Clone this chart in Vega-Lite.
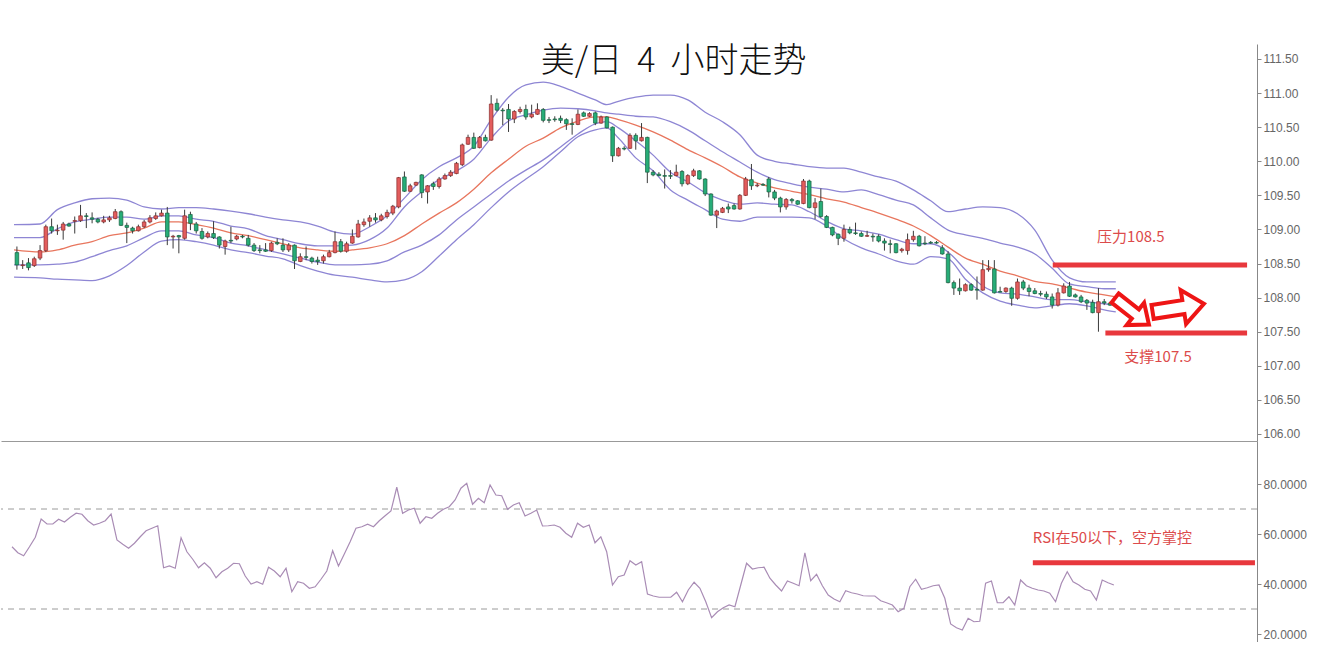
{
  "$schema": "https://vega.github.io/schema/vega-lite/v6.json",
  "padding": {"left": 0, "top": 44, "right": 0, "bottom": 0},
  "background": "#ffffff",
  "spacing": 0,
  "config": {
    "view": {"stroke": null},
    "axis": {"grid": false, "domainColor": "#888888", "tickColor": "#888888", "tickSize": 4, "labelColor": "#666666", "labelFont": "Liberation Sans", "labelFontSize": 12, "labelPadding": 2, "labelOverlap": false, "title": null}
  },
  "datasets": {
    "k": [
      {"n":1,"o":108.66,"h":108.75,"l":108.41,"c":108.48,"r":54.9},
      {"n":2,"o":108.47,"h":108.55,"l":108.42,"c":108.48,"r":52.5},
      {"n":3,"o":108.51,"h":108.58,"l":108.40,"c":108.44,"r":51.3},
      {"n":4,"o":108.47,"h":108.60,"l":108.45,"c":108.57,"r":54.9},
      {"n":5,"o":108.58,"h":108.77,"l":108.55,"c":108.69,"r":58.7},
      {"n":6,"o":108.69,"h":109.07,"l":108.67,"c":109.04,"r":66.0},
      {"n":7,"o":109.04,"h":109.16,"l":108.94,"c":108.98,"r":64.0},
      {"n":8,"o":108.98,"h":109.07,"l":108.92,"c":108.99,"r":64.0},
      {"n":9,"o":108.99,"h":109.11,"l":108.85,"c":109.08,"r":65.9},
      {"n":10,"o":109.08,"h":109.10,"l":109.04,"c":109.05,"r":64.8},
      {"n":11,"o":109.12,"h":109.19,"l":108.94,"c":109.13,"r":66.7},
      {"n":12,"o":109.13,"h":109.36,"l":109.11,"c":109.20,"r":68.3},
      {"n":13,"o":109.20,"h":109.24,"l":109.02,"c":109.19,"r":67.9},
      {"n":14,"o":109.17,"h":109.25,"l":109.09,"c":109.15,"r":65.3},
      {"n":15,"o":109.15,"h":109.17,"l":109.09,"c":109.11,"r":63.6},
      {"n":16,"o":109.11,"h":109.20,"l":109.09,"c":109.14,"r":64.3},
      {"n":17,"o":109.14,"h":109.20,"l":109.11,"c":109.17,"r":65.3},
      {"n":18,"o":109.16,"h":109.30,"l":109.15,"c":109.26,"r":68.0},
      {"n":19,"o":109.26,"h":109.28,"l":109.05,"c":109.06,"r":57.6},
      {"n":20,"o":109.06,"h":109.10,"l":108.80,"c":109.03,"r":55.9},
      {"n":21,"o":109.02,"h":109.04,"l":108.94,"c":108.98,"r":54.3},
      {"n":22,"o":108.98,"h":109.07,"l":108.97,"c":109.04,"r":56.3},
      {"n":23,"o":109.04,"h":109.14,"l":109.02,"c":109.11,"r":58.9},
      {"n":24,"o":109.11,"h":109.21,"l":109.09,"c":109.17,"r":61.3},
      {"n":25,"o":109.16,"h":109.25,"l":109.14,"c":109.20,"r":62.3},
      {"n":26,"o":109.20,"h":109.29,"l":109.19,"c":109.24,"r":63.3},
      {"n":27,"o":109.24,"h":109.33,"l":108.77,"c":108.89,"r":46.5},
      {"n":28,"o":108.89,"h":108.92,"l":108.72,"c":108.90,"r":47.2},
      {"n":29,"o":108.91,"h":108.92,"l":108.65,"c":108.89,"r":46.3},
      {"n":30,"o":108.87,"h":109.29,"l":108.85,"c":109.20,"r":58.5},
      {"n":31,"o":109.22,"h":109.26,"l":108.99,"c":109.09,"r":52.9},
      {"n":32,"o":109.08,"h":109.11,"l":108.94,"c":108.98,"r":49.9},
      {"n":33,"o":108.97,"h":109.02,"l":108.85,"c":108.87,"r":46.5},
      {"n":34,"o":108.89,"h":108.97,"l":108.87,"c":108.94,"r":48.5},
      {"n":35,"o":108.94,"h":109.12,"l":108.86,"c":108.88,"r":46.3},
      {"n":36,"o":108.89,"h":108.90,"l":108.72,"c":108.77,"r":42.5},
      {"n":37,"o":108.75,"h":108.85,"l":108.63,"c":108.83,"r":44.9},
      {"n":38,"o":108.84,"h":109.04,"l":108.80,"c":108.83,"r":46.3},
      {"n":39,"o":108.86,"h":108.92,"l":108.84,"c":108.90,"r":48.3},
      {"n":40,"o":108.90,"h":108.92,"l":108.87,"c":108.89,"r":48.1},
      {"n":41,"o":108.87,"h":108.92,"l":108.75,"c":108.77,"r":43.2},
      {"n":42,"o":108.77,"h":108.80,"l":108.67,"c":108.69,"r":40.0},
      {"n":43,"o":108.70,"h":108.77,"l":108.65,"c":108.69,"r":40.9},
      {"n":44,"o":108.70,"h":108.80,"l":108.67,"c":108.68,"r":39.9},
      {"n":45,"o":108.69,"h":108.82,"l":108.67,"c":108.80,"r":46.7},
      {"n":46,"o":108.81,"h":108.87,"l":108.77,"c":108.79,"r":45.2},
      {"n":47,"o":108.77,"h":108.87,"l":108.67,"c":108.70,"r":42.9},
      {"n":48,"o":108.70,"h":108.80,"l":108.67,"c":108.77,"r":46.3},
      {"n":49,"o":108.77,"h":108.78,"l":108.42,"c":108.54,"r":36.9},
      {"n":50,"o":108.53,"h":108.65,"l":108.52,"c":108.60,"r":40.9},
      {"n":51,"o":108.60,"h":108.75,"l":108.55,"c":108.59,"r":40.3},
      {"n":52,"o":108.58,"h":108.60,"l":108.50,"c":108.53,"r":38.3},
      {"n":53,"o":108.55,"h":108.60,"l":108.48,"c":108.53,"r":38.9},
      {"n":54,"o":108.54,"h":108.63,"l":108.50,"c":108.60,"r":41.9},
      {"n":55,"o":108.60,"h":108.70,"l":108.59,"c":108.66,"r":45.2},
      {"n":56,"o":108.66,"h":108.97,"l":108.65,"c":108.82,"r":53.3},
      {"n":57,"o":108.82,"h":108.86,"l":108.66,"c":108.68,"r":47.2},
      {"n":58,"o":108.68,"h":108.82,"l":108.66,"c":108.79,"r":52.0},
      {"n":59,"o":108.80,"h":109.00,"l":108.79,"c":108.90,"r":56.9},
      {"n":60,"o":108.89,"h":109.14,"l":108.88,"c":109.08,"r":62.3},
      {"n":61,"o":109.07,"h":109.16,"l":109.04,"c":109.11,"r":62.9},
      {"n":62,"o":109.12,"h":109.21,"l":109.04,"c":109.17,"r":63.9},
      {"n":63,"o":109.17,"h":109.24,"l":109.10,"c":109.14,"r":62.9},
      {"n":64,"o":109.14,"h":109.23,"l":109.12,"c":109.20,"r":65.3},
      {"n":65,"o":109.19,"h":109.29,"l":109.16,"c":109.25,"r":67.3},
      {"n":66,"o":109.24,"h":109.36,"l":109.21,"c":109.34,"r":69.2},
      {"n":67,"o":109.33,"h":109.77,"l":109.31,"c":109.76,"r":78.7},
      {"n":68,"o":109.77,"h":109.85,"l":109.55,"c":109.56,"r":68.3},
      {"n":69,"o":109.56,"h":109.67,"l":109.55,"c":109.64,"r":69.6},
      {"n":70,"o":109.65,"h":109.70,"l":109.64,"c":109.69,"r":70.3},
      {"n":71,"o":109.80,"h":109.81,"l":109.46,"c":109.54,"r":64.3},
      {"n":72,"o":109.55,"h":109.65,"l":109.38,"c":109.64,"r":66.9},
      {"n":73,"o":109.67,"h":109.70,"l":109.58,"c":109.63,"r":66.3},
      {"n":74,"o":109.63,"h":109.77,"l":109.60,"c":109.74,"r":68.3},
      {"n":75,"o":109.74,"h":109.82,"l":109.73,"c":109.79,"r":69.9},
      {"n":76,"o":109.79,"h":109.87,"l":109.77,"c":109.84,"r":70.9},
      {"n":77,"o":109.82,"h":109.99,"l":109.81,"c":109.97,"r":73.6},
      {"n":78,"o":109.95,"h":110.26,"l":109.93,"c":110.24,"r":78.3},
      {"n":79,"o":110.25,"h":110.39,"l":110.24,"c":110.35,"r":80.3},
      {"n":80,"o":110.35,"h":110.42,"l":110.18,"c":110.19,"r":71.9},
      {"n":81,"o":110.20,"h":110.37,"l":110.19,"c":110.35,"r":74.3},
      {"n":82,"o":110.35,"h":110.39,"l":110.29,"c":110.30,"r":72.5},
      {"n":83,"o":110.31,"h":110.97,"l":110.30,"c":110.84,"r":79.6},
      {"n":84,"o":110.85,"h":110.92,"l":110.73,"c":110.75,"r":75.6},
      {"n":85,"o":110.75,"h":110.78,"l":110.53,"c":110.74,"r":75.3},
      {"n":86,"o":110.76,"h":110.84,"l":110.43,"c":110.62,"r":69.9},
      {"n":87,"o":110.62,"h":110.75,"l":110.56,"c":110.73,"r":71.6},
      {"n":88,"o":110.73,"h":110.80,"l":110.70,"c":110.76,"r":72.5},
      {"n":89,"o":110.76,"h":110.83,"l":110.61,"c":110.65,"r":67.2},
      {"n":90,"o":110.65,"h":110.83,"l":110.63,"c":110.69,"r":68.3},
      {"n":91,"o":110.69,"h":110.85,"l":110.68,"c":110.76,"r":69.6},
      {"n":92,"o":110.76,"h":110.78,"l":110.57,"c":110.60,"r":63.2},
      {"n":93,"o":110.61,"h":110.65,"l":110.56,"c":110.60,"r":63.3},
      {"n":94,"o":110.62,"h":110.66,"l":110.58,"c":110.61,"r":63.6},
      {"n":95,"o":110.63,"h":110.67,"l":110.56,"c":110.60,"r":62.7},
      {"n":96,"o":110.61,"h":110.63,"l":110.46,"c":110.55,"r":60.3},
      {"n":97,"o":110.55,"h":110.63,"l":110.39,"c":110.54,"r":58.7},
      {"n":98,"o":110.54,"h":110.76,"l":110.53,"c":110.69,"r":64.3},
      {"n":99,"o":110.71,"h":110.73,"l":110.65,"c":110.66,"r":62.7},
      {"n":100,"o":110.66,"h":110.72,"l":110.65,"c":110.70,"r":63.6},
      {"n":101,"o":110.71,"h":110.73,"l":110.53,"c":110.56,"r":56.5},
      {"n":102,"o":110.56,"h":110.67,"l":110.55,"c":110.65,"r":58.9},
      {"n":103,"o":110.65,"h":110.66,"l":110.48,"c":110.49,"r":52.9},
      {"n":104,"o":110.50,"h":110.51,"l":109.99,"c":110.08,"r":39.6},
      {"n":105,"o":110.08,"h":110.21,"l":110.07,"c":110.19,"r":42.9},
      {"n":106,"o":110.19,"h":110.22,"l":110.16,"c":110.18,"r":43.6},
      {"n":107,"o":110.19,"h":110.41,"l":110.18,"c":110.38,"r":49.3},
      {"n":108,"o":110.38,"h":110.41,"l":110.17,"c":110.30,"r":47.6},
      {"n":109,"o":110.30,"h":110.56,"l":110.29,"c":110.35,"r":48.9},
      {"n":110,"o":110.35,"h":110.36,"l":109.68,"c":109.84,"r":36.0},
      {"n":111,"o":109.84,"h":109.87,"l":109.78,"c":109.80,"r":35.2},
      {"n":112,"o":109.81,"h":109.84,"l":109.78,"c":109.79,"r":34.7},
      {"n":113,"o":109.79,"h":109.88,"l":109.60,"c":109.78,"r":34.7},
      {"n":114,"o":109.79,"h":109.87,"l":109.74,"c":109.78,"r":34.7},
      {"n":115,"o":109.79,"h":109.95,"l":109.78,"c":109.84,"r":36.7},
      {"n":116,"o":109.85,"h":109.87,"l":109.63,"c":109.67,"r":32.9},
      {"n":117,"o":109.67,"h":109.81,"l":109.65,"c":109.79,"r":37.6},
      {"n":118,"o":109.79,"h":109.89,"l":109.77,"c":109.86,"r":40.7},
      {"n":119,"o":109.86,"h":109.87,"l":109.73,"c":109.74,"r":38.3},
      {"n":120,"o":109.74,"h":109.75,"l":109.49,"c":109.52,"r":32.9},
      {"n":121,"o":109.52,"h":109.53,"l":109.20,"c":109.21,"r":26.5},
      {"n":122,"o":109.21,"h":109.29,"l":109.02,"c":109.27,"r":28.9},
      {"n":123,"o":109.25,"h":109.33,"l":109.24,"c":109.31,"r":30.5},
      {"n":124,"o":109.33,"h":109.38,"l":109.24,"c":109.30,"r":31.6},
      {"n":125,"o":109.35,"h":109.38,"l":109.29,"c":109.30,"r":30.9},
      {"n":126,"o":109.30,"h":109.52,"l":109.29,"c":109.50,"r":39.6},
      {"n":127,"o":109.50,"h":109.77,"l":109.49,"c":109.74,"r":48.3},
      {"n":128,"o":109.73,"h":109.96,"l":109.58,"c":109.64,"r":46.0},
      {"n":129,"o":109.64,"h":109.68,"l":109.62,"c":109.65,"r":46.5},
      {"n":130,"o":109.66,"h":109.68,"l":109.64,"c":109.65,"r":46.7},
      {"n":131,"o":109.74,"h":109.77,"l":109.47,"c":109.55,"r":42.3},
      {"n":132,"o":109.55,"h":109.58,"l":109.43,"c":109.46,"r":39.6},
      {"n":133,"o":109.46,"h":109.48,"l":109.25,"c":109.33,"r":37.2},
      {"n":134,"o":109.33,"h":109.46,"l":109.29,"c":109.44,"r":41.2},
      {"n":135,"o":109.44,"h":109.46,"l":109.38,"c":109.42,"r":40.3},
      {"n":136,"o":109.42,"h":109.43,"l":109.36,"c":109.37,"r":39.3},
      {"n":137,"o":109.38,"h":109.74,"l":109.37,"c":109.71,"r":52.5},
      {"n":138,"o":109.71,"h":109.73,"l":109.31,"c":109.32,"r":41.3},
      {"n":139,"o":109.32,"h":109.46,"l":109.15,"c":109.39,"r":43.9},
      {"n":140,"o":109.41,"h":109.60,"l":109.17,"c":109.19,"r":39.3},
      {"n":141,"o":109.19,"h":109.21,"l":109.02,"c":109.03,"r":35.6},
      {"n":142,"o":109.03,"h":109.04,"l":108.90,"c":108.92,"r":34.0},
      {"n":143,"o":108.93,"h":108.94,"l":108.77,"c":108.87,"r":32.9},
      {"n":144,"o":108.87,"h":109.07,"l":108.82,"c":109.00,"r":37.3},
      {"n":145,"o":109.00,"h":109.04,"l":108.93,"c":108.95,"r":36.5},
      {"n":146,"o":108.95,"h":109.10,"l":108.92,"c":108.94,"r":36.0},
      {"n":147,"o":108.94,"h":108.97,"l":108.89,"c":108.90,"r":35.3},
      {"n":148,"o":108.90,"h":108.98,"l":108.89,"c":108.91,"r":35.2},
      {"n":149,"o":108.90,"h":108.94,"l":108.82,"c":108.89,"r":35.2},
      {"n":150,"o":108.90,"h":108.93,"l":108.81,"c":108.83,"r":33.3},
      {"n":151,"o":108.83,"h":108.87,"l":108.69,"c":108.80,"r":32.5},
      {"n":152,"o":108.79,"h":108.85,"l":108.65,"c":108.78,"r":31.6},
      {"n":153,"o":108.79,"h":108.80,"l":108.65,"c":108.66,"r":28.9},
      {"n":154,"o":108.69,"h":108.73,"l":108.66,"c":108.71,"r":30.3},
      {"n":155,"o":108.69,"h":108.94,"l":108.63,"c":108.85,"r":38.9},
      {"n":156,"o":108.85,"h":108.98,"l":108.82,"c":108.90,"r":41.9},
      {"n":157,"o":108.90,"h":108.92,"l":108.75,"c":108.76,"r":37.9},
      {"n":158,"o":108.80,"h":108.90,"l":108.77,"c":108.79,"r":38.5},
      {"n":159,"o":108.81,"h":108.83,"l":108.79,"c":108.80,"r":39.3},
      {"n":160,"o":108.81,"h":108.83,"l":108.79,"c":108.80,"r":39.6},
      {"n":161,"o":108.73,"h":108.77,"l":108.63,"c":108.64,"r":34.3},
      {"n":162,"o":108.64,"h":108.68,"l":108.21,"c":108.22,"r":24.0},
      {"n":163,"o":108.22,"h":108.25,"l":108.04,"c":108.14,"r":22.5},
      {"n":164,"o":108.14,"h":108.28,"l":108.04,"c":108.10,"r":21.6},
      {"n":165,"o":108.10,"h":108.21,"l":108.09,"c":108.19,"r":26.3},
      {"n":166,"o":108.19,"h":108.21,"l":108.10,"c":108.11,"r":24.9},
      {"n":167,"o":108.12,"h":108.31,"l":107.97,"c":108.11,"r":25.1},
      {"n":168,"o":108.11,"h":108.55,"l":108.10,"c":108.41,"r":40.3},
      {"n":169,"o":108.41,"h":108.55,"l":108.38,"c":108.43,"r":41.2},
      {"n":170,"o":108.42,"h":108.55,"l":108.06,"c":108.07,"r":32.5},
      {"n":171,"o":108.09,"h":108.16,"l":108.08,"c":108.08,"r":32.5},
      {"n":172,"o":108.09,"h":108.15,"l":108.07,"c":108.14,"r":34.9},
      {"n":173,"o":108.14,"h":108.16,"l":107.88,"c":107.99,"r":31.6},
      {"n":174,"o":107.99,"h":108.28,"l":107.97,"c":108.23,"r":41.6},
      {"n":175,"o":108.23,"h":108.26,"l":108.11,"c":108.14,"r":39.3},
      {"n":176,"o":108.14,"h":108.19,"l":108.02,"c":108.09,"r":38.3},
      {"n":177,"o":108.10,"h":108.14,"l":108.05,"c":108.06,"r":37.6},
      {"n":178,"o":108.06,"h":108.10,"l":108.02,"c":108.05,"r":37.2},
      {"n":179,"o":108.05,"h":108.09,"l":107.98,"c":108.01,"r":36.3},
      {"n":180,"o":108.01,"h":108.06,"l":107.84,"c":107.89,"r":32.9},
      {"n":181,"o":107.89,"h":108.14,"l":107.87,"c":108.07,"r":40.3},
      {"n":182,"o":108.07,"h":108.21,"l":108.06,"c":108.17,"r":44.9},
      {"n":183,"o":108.17,"h":108.23,"l":108.01,"c":108.02,"r":40.9},
      {"n":184,"o":108.04,"h":108.06,"l":108.00,"c":108.01,"r":39.6},
      {"n":185,"o":108.01,"h":108.04,"l":107.92,"c":107.94,"r":37.9},
      {"n":186,"o":107.96,"h":107.98,"l":107.82,"c":107.92,"r":37.2},
      {"n":187,"o":107.93,"h":107.97,"l":107.77,"c":107.78,"r":33.6},
      {"n":188,"o":107.78,"h":108.14,"l":107.50,"c":107.94,"r":41.6},
      {"n":189,"o":107.94,"h":107.98,"l":107.89,"c":107.92,"r":40.5},
      {"n":190,"o":107.92,"h":107.94,"l":107.88,"c":107.89,"r":39.6}
    ],
    "b": [
      {"n":0.5,"u2":109.07,"u1":108.88,"m":108.70,"l1":108.48,"l2":108.30},
      {"n":5,"u2":109.08,"u1":108.88,"m":108.67,"l1":108.48,"l2":108.29},
      {"n":8,"u2":109.29,"u1":109.01,"m":108.70,"l1":108.49,"l2":108.27},
      {"n":11,"u2":109.39,"u1":109.11,"m":108.77,"l1":108.52,"l2":108.26},
      {"n":14,"u2":109.45,"u1":109.15,"m":108.82,"l1":108.60,"l2":108.25},
      {"n":17,"u2":109.46,"u1":109.18,"m":108.91,"l1":108.69,"l2":108.32},
      {"n":20,"u2":109.43,"u1":109.18,"m":108.95,"l1":108.76,"l2":108.47},
      {"n":23,"u2":109.33,"u1":109.15,"m":109.02,"l1":108.88,"l2":108.67},
      {"n":26,"u2":109.30,"u1":109.20,"m":109.11,"l1":108.98,"l2":108.83},
      {"n":29,"u2":109.32,"u1":109.20,"m":109.11,"l1":108.98,"l2":108.85},
      {"n":32,"u2":109.32,"u1":109.15,"m":109.07,"l1":108.92,"l2":108.82},
      {"n":35,"u2":109.30,"u1":109.12,"m":109.02,"l1":108.88,"l2":108.77},
      {"n":38,"u2":109.27,"u1":109.05,"m":108.95,"l1":108.80,"l2":108.70},
      {"n":41,"u2":109.23,"u1":109.01,"m":108.91,"l1":108.76,"l2":108.66},
      {"n":44,"u2":109.18,"u1":108.91,"m":108.85,"l1":108.70,"l2":108.61},
      {"n":47,"u2":109.14,"u1":108.85,"m":108.79,"l1":108.64,"l2":108.57},
      {"n":50,"u2":109.11,"u1":108.79,"m":108.73,"l1":108.58,"l2":108.47},
      {"n":53,"u2":109.05,"u1":108.76,"m":108.70,"l1":108.52,"l2":108.39},
      {"n":56,"u2":108.96,"u1":108.76,"m":108.68,"l1":108.48,"l2":108.33},
      {"n":59,"u2":108.93,"u1":108.77,"m":108.70,"l1":108.48,"l2":108.30},
      {"n":62,"u2":109.04,"u1":108.85,"m":108.73,"l1":108.49,"l2":108.26},
      {"n":65,"u2":109.20,"u1":109.02,"m":108.79,"l1":108.54,"l2":108.23},
      {"n":68,"u2":109.46,"u1":109.33,"m":108.91,"l1":108.67,"l2":108.26},
      {"n":71,"u2":109.73,"u1":109.55,"m":109.08,"l1":108.77,"l2":108.38},
      {"n":74,"u2":109.92,"u1":109.73,"m":109.24,"l1":108.92,"l2":108.61},
      {"n":77,"u2":110.05,"u1":109.86,"m":109.39,"l1":109.14,"l2":108.85},
      {"n":80,"u2":110.22,"u1":110.03,"m":109.59,"l1":109.33,"l2":109.07},
      {"n":83,"u2":110.61,"u1":110.34,"m":109.83,"l1":109.52,"l2":109.32},
      {"n":86,"u2":110.94,"u1":110.59,"m":110.03,"l1":109.71,"l2":109.55},
      {"n":89,"u2":111.12,"u1":110.68,"m":110.22,"l1":109.87,"l2":109.74},
      {"n":92,"u2":111.16,"u1":110.75,"m":110.34,"l1":110.02,"l2":109.92},
      {"n":95,"u2":111.10,"u1":110.78,"m":110.49,"l1":110.21,"l2":110.14},
      {"n":98,"u2":111.00,"u1":110.77,"m":110.59,"l1":110.40,"l2":110.36},
      {"n":101,"u2":110.90,"u1":110.74,"m":110.65,"l1":110.55,"l2":110.46},
      {"n":103,"u2":110.83,"u1":110.71,"m":110.65,"l1":110.58,"l2":110.49},
      {"n":105,"u2":110.88,"u1":110.69,"m":110.61,"l1":110.49,"l2":110.34},
      {"n":108,"u2":110.94,"u1":110.66,"m":110.53,"l1":110.30,"l2":110.05},
      {"n":111,"u2":110.97,"u1":110.65,"m":110.43,"l1":110.09,"l2":109.86},
      {"n":114,"u2":110.97,"u1":110.58,"m":110.31,"l1":109.84,"l2":109.58},
      {"n":117,"u2":110.90,"u1":110.46,"m":110.17,"l1":109.70,"l2":109.43},
      {"n":120,"u2":110.72,"u1":110.30,"m":110.05,"l1":109.54,"l2":109.29},
      {"n":123,"u2":110.58,"u1":110.14,"m":109.92,"l1":109.43,"l2":109.15},
      {"n":126,"u2":110.39,"u1":109.99,"m":109.77,"l1":109.37,"l2":109.12},
      {"n":129,"u2":110.09,"u1":109.84,"m":109.68,"l1":109.39,"l2":109.18},
      {"n":132,"u2":110.00,"u1":109.73,"m":109.61,"l1":109.37,"l2":109.18},
      {"n":135,"u2":109.96,"u1":109.67,"m":109.56,"l1":109.36,"l2":109.18},
      {"n":138,"u2":109.92,"u1":109.62,"m":109.51,"l1":109.26,"l2":109.17},
      {"n":141,"u2":109.90,"u1":109.59,"m":109.45,"l1":109.12,"l2":109.05},
      {"n":144,"u2":109.90,"u1":109.55,"m":109.40,"l1":109.01,"l2":108.86},
      {"n":147,"u2":109.84,"u1":109.58,"m":109.32,"l1":108.98,"l2":108.73},
      {"n":150,"u2":109.77,"u1":109.51,"m":109.24,"l1":108.93,"l2":108.64},
      {"n":153,"u2":109.71,"u1":109.43,"m":109.15,"l1":108.85,"l2":108.54},
      {"n":156,"u2":109.58,"u1":109.36,"m":109.05,"l1":108.79,"l2":108.49},
      {"n":159,"u2":109.42,"u1":109.17,"m":108.91,"l1":108.79,"l2":108.60},
      {"n":162,"u2":109.26,"u1":108.99,"m":108.74,"l1":108.67,"l2":108.57},
      {"n":165,"u2":109.30,"u1":108.92,"m":108.58,"l1":108.41,"l2":108.27},
      {"n":168,"u2":109.33,"u1":108.87,"m":108.49,"l1":108.17,"l2":108.07},
      {"n":171,"u2":109.32,"u1":108.80,"m":108.39,"l1":108.07,"l2":107.95},
      {"n":174,"u2":109.23,"u1":108.74,"m":108.32,"l1":108.05,"l2":107.89},
      {"n":177,"u2":108.99,"u1":108.64,"m":108.24,"l1":108.01,"l2":107.85},
      {"n":180,"u2":108.55,"u1":108.43,"m":108.20,"l1":107.97,"l2":107.88},
      {"n":183,"u2":108.29,"u1":108.20,"m":108.14,"l1":107.97,"l2":107.91},
      {"n":186,"u2":108.23,"u1":108.16,"m":108.08,"l1":107.94,"l2":107.88},
      {"n":189,"u2":108.23,"u1":108.13,"m":108.04,"l1":107.91,"l2":107.82},
      {"n":191,"u2":108.23,"u1":108.13,"m":108.01,"l1":107.89,"l2":107.79}
    ]
  },
  "vconcat": [
    {
      "width": 1256,
      "height": 397,
      "encoding": {
        "x": {"type": "quantitative", "scale": {"domain": [-0.887, 214.55], "nice": false, "zero": false}, "axis": {"labels": false, "ticks": false, "grid": false, "domainColor": "#999999"}},
        "y": {"type": "quantitative", "scale": {"domain": [105.897, 111.72], "nice": false, "zero": false}, "axis": {"orient": "right", "values": [106, 106.5, 107, 107.5, 108, 108.5, 109, 109.5, 110, 110.5, 111, 111.5], "format": ".2f", "labelOverlap": false}}
      },
      "layer": [
        {
          "data": {"name": "b"},
          "transform": [{"fold": ["u2", "u1", "l1", "l2"], "as": ["band", "v"]}],
          "mark": {"type": "line", "color": "#8e86d4", "strokeWidth": 1.3, "interpolate": "monotone"},
          "encoding": {
            "x": {"field": "n"},
            "y": {"field": "v"},
            "detail": {"field": "band", "type": "nominal"}
          }
        },
        {
          "data": {"name": "b"},
          "mark": {"type": "line", "color": "#e8765e", "strokeWidth": 1.3, "interpolate": "monotone"},
          "encoding": {
            "x": {"field": "n"},
            "y": {"field": "m"}
          }
        },
        {
          "data": {"name": "k"},
          "mark": {"type": "rule", "color": "#3a3a3a", "strokeWidth": 1},
          "encoding": {
            "x": {"field": "n"},
            "y": {"field": "l"},
            "y2": {"field": "h"}
          }
        },
        {
          "data": {"name": "k"},
          "mark": {"type": "bar", "width": 3.6, "strokeWidth": 0.7},
          "encoding": {
            "x": {"field": "n"},
            "y": {"field": "o"},
            "y2": {"field": "c"},
            "color": {"condition": {"test": "datum.c >= datum.o", "value": "#e35d5d"}, "value": "#27ad78"},
            "stroke": {"condition": {"test": "datum.c >= datum.o", "value": "#8a2c2c"}, "value": "#17603f"}
          }
        },
        {
          "data": {"values": [{}]},
          "mark": {"type": "rule", "color": "#e8383d", "strokeWidth": 5},
          "encoding": {
            "x": {"datum": 180.1},
            "x2": {"datum": 213.7},
            "y": {"datum": 108.48}
          }
        },
        {
          "data": {"values": [{}]},
          "mark": {"type": "rule", "color": "#e8383d", "strokeWidth": 5},
          "encoding": {
            "x": {"datum": 189.2},
            "x2": {"datum": 213.7},
            "y": {"datum": 107.48}
          }
        },
        {
          "data": {"values": [{}]},
          "mark": {"type": "point", "shape": "M -1 -0.27 L 0.2 -0.27 L 0.2 -0.66 L 1 0 L 0.2 0.66 L 0.2 0.27 L -1 0.27 Z", "size": 1850, "angle": 38, "filled": true, "fill": "#ffffff", "stroke": "#ee1515", "strokeWidth": 4, "opacity": 1, "strokeJoin": "miter"},
          "encoding": {
            "x": {"datum": 193.8},
            "y": {"datum": 107.8}
          }
        },
        {
          "data": {"values": [{}]},
          "mark": {"type": "point", "shape": "M -1 -0.27 L 0.2 -0.27 L 0.2 -0.66 L 1 0 L 0.2 0.66 L 0.2 0.27 L -1 0.27 Z", "size": 2700, "angle": -9, "filled": true, "fill": "#ffffff", "stroke": "#ee1515", "strokeWidth": 4, "opacity": 1, "strokeJoin": "miter"},
          "encoding": {
            "x": {"datum": 201.8},
            "y": {"datum": 107.85}
          }
        },
        {
          "data": {"values": [{}]},
          "mark": {"type": "text", "text": "压力108.5", "font": "Noto Sans CJK SC", "fontSize": 15, "color": "#dc4b4b", "align": "center", "baseline": "middle"},
          "encoding": {
            "x": {"datum": 193.6},
            "y": {"datum": 108.894}
          }
        },
        {
          "data": {"values": [{}]},
          "mark": {"type": "text", "text": "支撑107.5", "font": "Noto Sans CJK SC", "fontSize": 15, "color": "#dc4b4b", "align": "center", "baseline": "middle"},
          "encoding": {
            "x": {"datum": 198.3},
            "y": {"datum": 107.135}
          }
        },
        {
          "data": {"values": [{}]},
          "mark": {"type": "text", "text": "美/日\u00a0\u00a04\u00a0\u00a0小时走势", "font": "Noto Sans CJK SC", "fontSize": 34, "fontWeight": 300, "color": "#111111", "align": "center", "baseline": "middle"},
          "encoding": {
            "x": {"datum": 114.55},
            "y": {"datum": 111.456}
          }
        }
      ]
    },
    {
      "width": 1256,
      "height": 201,
      "encoding": {
        "x": {"type": "quantitative", "scale": {"domain": [-0.887, 214.55], "nice": false, "zero": false}, "axis": {"labels": false, "ticks": false, "grid": false, "domainColor": "#666666"}},
        "y": {"type": "quantitative", "scale": {"domain": [16.8, 97.2], "nice": false, "zero": false}, "axis": {"orient": "right", "values": [20, 40, 60, 80], "format": ".4f", "labelOverlap": false}}
      },
      "layer": [
        {
          "data": {"values": [{}]},
          "mark": {"type": "rule", "color": "#9a9a9a", "strokeWidth": 1, "strokeDash": [6, 5]},
          "encoding": {
            "y": {"datum": 70}
          }
        },
        {
          "data": {"values": [{}]},
          "mark": {"type": "rule", "color": "#9a9a9a", "strokeWidth": 1, "strokeDash": [6, 5]},
          "encoding": {
            "y": {"datum": 30}
          }
        },
        {
          "data": {"name": "k"},
          "mark": {"type": "line", "color": "#a98cb5", "strokeWidth": 1.2},
          "encoding": {
            "x": {"field": "n"},
            "y": {"field": "r"}
          }
        },
        {
          "data": {"values": [{}]},
          "mark": {"type": "rule", "color": "#e8383d", "strokeWidth": 5},
          "encoding": {
            "x": {"datum": 176.1},
            "x2": {"datum": 214.2},
            "y": {"datum": 48.5}
          }
        },
        {
          "data": {"values": [{}]},
          "mark": {"type": "text", "text": "RSI在50以下，空方掌控", "font": "Noto Sans CJK SC", "fontSize": 15, "color": "#dc4b4b", "align": "left", "baseline": "middle"},
          "encoding": {
            "x": {"datum": 176.1},
            "y": {"datum": 58.4}
          }
        }
      ]
    }
  ]
}
